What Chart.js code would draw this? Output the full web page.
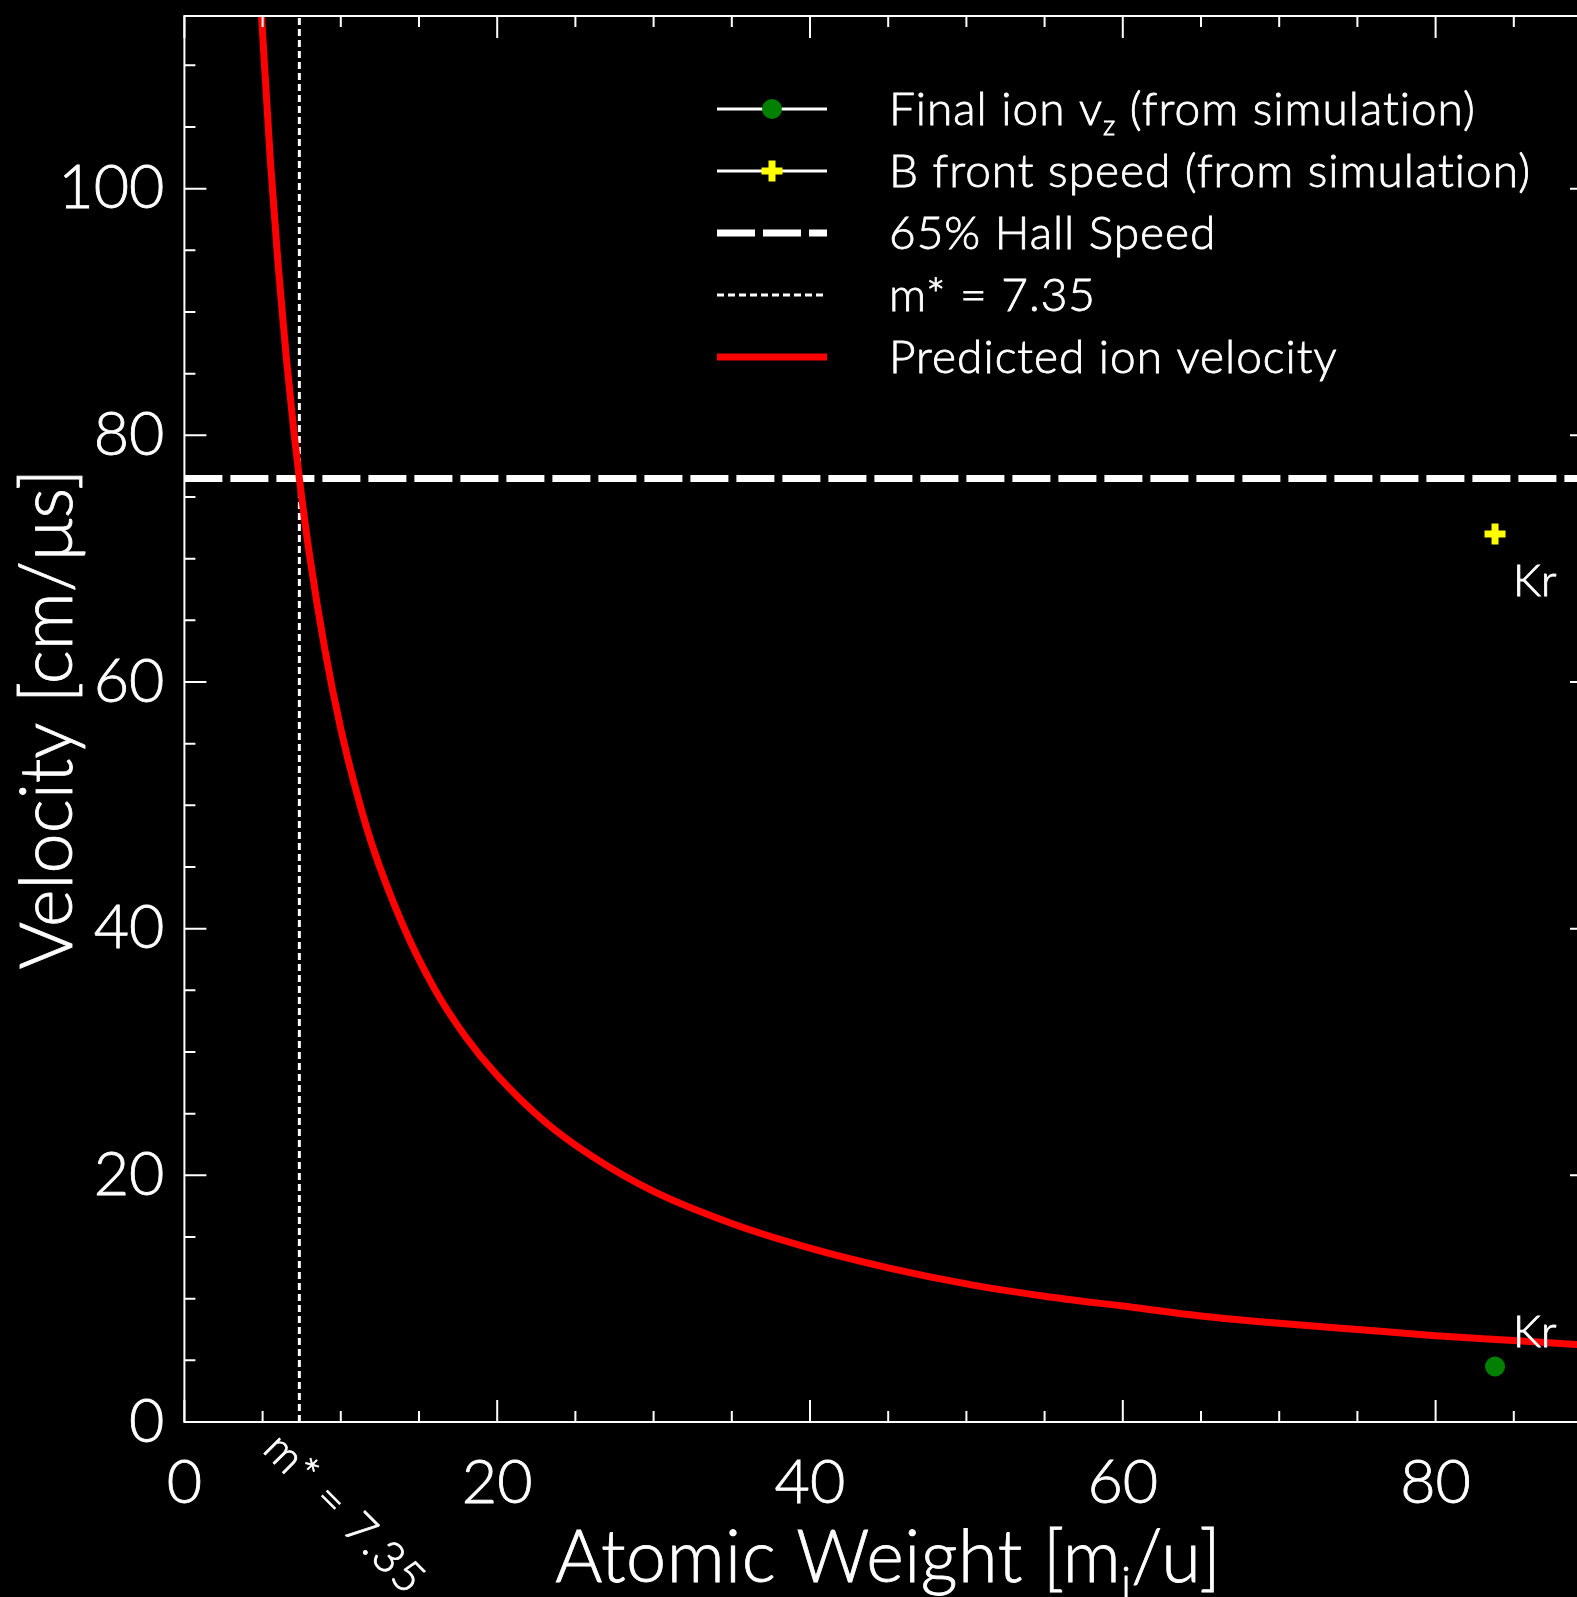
<!DOCTYPE html>
<html>
<head>
<meta charset="utf-8">
<title>Predicted ion velocity vs atomic weight</title>
<script src="https://cdn.jsdelivr.net/npm/chart.js@4.4.1/dist/chart.umd.min.js"></script>
<style>
  html, body { margin: 0; padding: 0; background: #000; overflow: hidden; }
  #wrap { width: 1600px; height: 1597px; }
</style>
</head>
<body>
<div id="wrap"><canvas id="chart" width="1600" height="1597"></canvas></div>
<script>
// axis ranges
const xMax = 90;
const yMax = 114;

// predicted ion velocity curve
const predMass = [4.9, 5.5, 6, 6.5, 7, 7.35, 8, 9, 10, 11, 12, 14, 16, 18, 20, 23, 26, 30, 35, 40, 45, 50, 55, 60, 65, 70, 75, 80, 85, 90];
const predVel = [114.7, 102.2, 93.7, 86.5, 80.3, 76.5, 70.3, 62.5, 56.2, 51.1, 46.8, 40.2, 35.1, 31.2, 28.1, 24.4, 21.6, 18.7, 16.1, 14.1, 12.5, 11.2, 10.2, 9.4, 8.6, 8.0, 7.5, 7.0, 6.6, 6.2];

// simulation results
const simNames = ["Kr"];
const simMass = [83.8];
const ionVz = [4.5];
const frontSpeed = [72.0];

const hallSpeed = 76.5;   // 65% of the Hall speed
const mStar = 7.35;

const FONT = "Lato, 'Open Sans', sans-serif";
const WEIGHT = 300;
const TEXT_STROKE = 0.8;  // a little extra weight on the light face

function pts(xs, ys) {
  return xs.map((x, i) => ({ x: x, y: ys[i] }));
}

function putText(ctx, s, x, y) {
  ctx.strokeText(s, x, y);
  ctx.fillText(s, x, y);
}

// text with "_c" subscripts
function drawRich(ctx, text, x, y, size, align, spacing) {
  const parts = text.split(/_(.)/);
  const fontFor = i => WEIGHT + " " + (i % 2 ? size * 0.6 : size) + "px " + FONT;
  ctx.letterSpacing = (spacing || 0) + "px";
  const widths = parts.map((p, i) => { ctx.font = fontFor(i); return ctx.measureText(p).width; });
  const total = widths.reduce((a, b) => a + b, 0);
  let cx = align === "center" ? x - total / 2 : x;
  ctx.textAlign = "left";
  ctx.textBaseline = "alphabetic";
  parts.forEach((p, i) => {
    ctx.font = fontFor(i);
    putText(ctx, p, cx, i % 2 ? y + size * 0.22 : y);
    cx += widths[i];
  });
  ctx.letterSpacing = "0px";
}

const framePlugin = {
  id: "frame",
  afterDatasetsDraw(chart, args, opts) {
    const { ctx, chartArea: a, scales: { x, y } } = chart;
    ctx.save();
    ctx.strokeStyle = "#fff";
    ctx.lineWidth = opts.lineWidth;
    ctx.strokeRect(a.left, a.top, a.right - a.left, a.bottom - a.top);
    ctx.beginPath();
    for (let v = x.min; v <= x.max; v += opts.minorStep) {
      const px = x.getPixelForValue(v);
      const len = v % opts.majorStep === 0 ? opts.majorLen : opts.minorLen;
      ctx.moveTo(px, a.bottom); ctx.lineTo(px, a.bottom - len);
      ctx.moveTo(px, a.top); ctx.lineTo(px, a.top + len);
    }
    for (let v = y.min; v <= y.max; v += opts.minorStep) {
      const py = y.getPixelForValue(v);
      const len = v % opts.majorStep === 0 ? opts.majorLen : opts.minorLen;
      ctx.moveTo(a.left, py); ctx.lineTo(a.left + len, py);
      ctx.moveTo(a.right, py); ctx.lineTo(a.right - len, py);
    }
    ctx.stroke();
    ctx.restore();
  }
};

const textPlugin = {
  id: "texts",
  afterDraw(chart, args, opts) {
    const { ctx, chartArea: a, scales: { x, y } } = chart;
    ctx.save();
    ctx.fillStyle = "#fff";
    ctx.strokeStyle = "#fff";
    ctx.lineWidth = TEXT_STROKE;

    // axis titles
    drawRich(ctx, opts.xTitle, (a.left + a.right) / 2, opts.xTitleBaseline, opts.titleSize, "center", 0.5);
    ctx.save();
    ctx.translate(opts.yTitleBaseline, (a.top + a.bottom) / 2);
    ctx.rotate(-Math.PI / 2);
    drawRich(ctx, opts.yTitle, 0, 0, opts.titleSize, "center", 0);
    ctx.restore();

    // legend
    const lg = opts.legend;
    chart.data.datasets.forEach((ds, i) => {
      const ry = lg.top + i * lg.rowGap;
      ctx.save();
      if (ds.showLine === false) {
        ctx.strokeStyle = "#fff";
        ctx.lineWidth = 3;
        ctx.beginPath();
        ctx.moveTo(lg.lineStart, ry); ctx.lineTo(lg.lineEnd, ry);
        ctx.stroke();
        ctx.fillStyle = ds.pointBackgroundColor || ds.pointBorderColor;
        ctx.strokeStyle = ds.pointBorderColor || ds.pointBackgroundColor;
        ctx.lineWidth = ds.pointBorderWidth;
        Chart.helpers.drawPoint(ctx, {
          pointStyle: ds.pointStyle, radius: ds.pointRadius, rotation: 0, borderWidth: ds.pointBorderWidth
        }, (lg.lineStart + lg.lineEnd) / 2, ry);
      } else {
        ctx.strokeStyle = ds.borderColor;
        ctx.lineWidth = ds.borderWidth;
        ctx.setLineDash(ds.borderDash || []);
        ctx.beginPath();
        ctx.moveTo(lg.lineStart, ry); ctx.lineTo(lg.lineEnd, ry);
        ctx.stroke();
      }
      ctx.restore();
      drawRich(ctx, ds.label, lg.textX, ry + lg.size * 0.34, lg.size, "left", lg.spacing);
    });

    // point names next to the simulation markers
    opts.pointLabels.forEach(pl => {
      const meta = chart.getDatasetMeta(pl.dataset);
      meta.data.forEach((el, j) => {
        ctx.font = WEIGHT + " " + opts.labelSize + "px " + FONT;
        ctx.textAlign = "left";
        ctx.textBaseline = "middle";
        putText(ctx, simNames[j], el.x + pl.dx, el.y + pl.dy);
      });
    });

    // rotated m* label under the axis
    ctx.save();
    ctx.translate(x.getPixelForValue(mStar) - 28, a.bottom + 19);
    ctx.rotate(Math.PI / 4);
    ctx.font = WEIGHT + " " + opts.labelSize + "px " + FONT;
    ctx.letterSpacing = "2px";
    ctx.textAlign = "left";
    ctx.textBaseline = "middle";
    putText(ctx, "m* = " + mStar, 0, 0);
    ctx.restore();

    ctx.restore();
  }
};

const datasets = [
  {
    label: "Final ion v_z (from simulation)",
    data: pts(simMass, ionVz),
    showLine: false,
    pointStyle: "circle",
    pointRadius: 10,
    pointBackgroundColor: "#008000",
    pointBorderColor: "#008000",
    pointBorderWidth: 0,
    order: 0
  },
  {
    label: "B front speed (from simulation)",
    data: pts(simMass, frontSpeed),
    showLine: false,
    pointStyle: "cross",
    pointRadius: 10.5,
    pointBorderColor: "#ffff00",
    pointBorderWidth: 7,
    order: 0
  },
  {
    label: "65% Hall Speed",
    data: [{ x: 0, y: hallSpeed }, { x: xMax, y: hallSpeed }],
    showLine: true,
    borderColor: "#fff",
    borderWidth: 7,
    borderDash: [38, 8],
    pointRadius: 0,
    clip: 0,
    order: 3
  },
  {
    label: "m* = " + mStar,
    data: [{ x: mStar, y: 0 }, { x: mStar, y: yMax }],
    showLine: true,
    borderColor: "#fff",
    borderWidth: 3,
    borderDash: [7, 4],
    pointRadius: 0,
    clip: 0,
    order: 2
  },
  {
    label: "Predicted ion velocity",
    data: pts(predMass, predVel),
    showLine: true,
    borderColor: "#ff0000",
    borderWidth: 7,
    cubicInterpolationMode: "monotone",
    pointRadius: 0,
    clip: 0,
    order: 1
  }
];

const tickFont = { family: FONT, size: 61, weight: WEIGHT };

new Chart(document.getElementById("chart"), {
  type: "scatter",
  data: { datasets: datasets },
  options: {
    responsive: false,
    animation: false,
    devicePixelRatio: 1,
    layout: { autoPadding: false, padding: { top: 16, right: 8, left: 0, bottom: 0 } },
    plugins: {
      legend: { display: false },
      tooltip: { enabled: false },
      frame: { lineWidth: 2, minorStep: 5, majorStep: 20, minorLen: 11, majorLen: 22 },
      texts: {
        xTitle: "Atomic Weight [m_i/u]",
        yTitle: "Velocity [cm/μs]",
        titleSize: 72,
        xTitleBaseline: 1582,
        yTitleBaseline: 72,
        labelSize: 44,
        legend: { top: 109, rowGap: 62, lineStart: 717, lineEnd: 827, textX: 889, size: 46, spacing: 1 },
        pointLabels: [{ dataset: 1, dx: 18, dy: 48 }, { dataset: 0, dx: 18, dy: -34 }]
      }
    },
    scales: {
      x: {
        type: "linear",
        min: 0,
        max: xMax,
        grid: { display: false, drawTicks: false },
        border: { display: false },
        ticks: {
          stepSize: 20, includeBounds: false, color: "#fff", font: tickFont, padding: 25,
          textStrokeColor: "#fff", textStrokeWidth: TEXT_STROKE
        },
        afterFit: s => { s.height = 175; s.paddingLeft = 0; s.paddingRight = 0; }
      },
      y: {
        type: "linear",
        min: 0,
        max: yMax,
        grid: { display: false, drawTicks: false },
        border: { display: false },
        ticks: {
          stepSize: 20, includeBounds: false, color: "#fff", font: tickFont, padding: 20,
          textStrokeColor: "#fff", textStrokeWidth: TEXT_STROKE
        },
        afterFit: s => { s.width = 184.4; s.paddingTop = 0; s.paddingBottom = 0; }
      }
    }
  },
  plugins: [framePlugin, textPlugin]
});
</script>
</body>
</html>
